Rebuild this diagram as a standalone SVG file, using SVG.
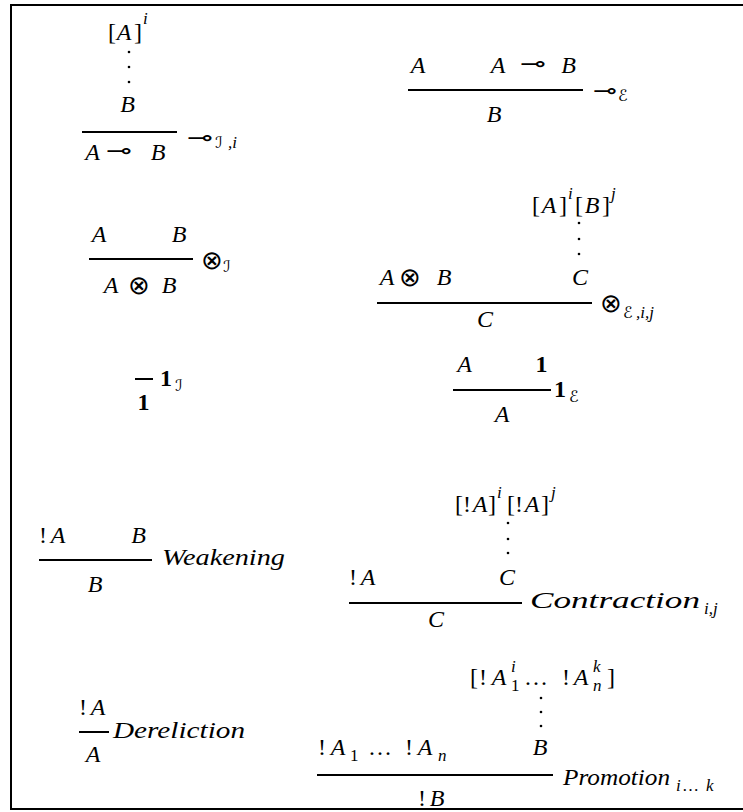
<svg xmlns="http://www.w3.org/2000/svg" width="743" height="812" viewBox="0 0 743 812">
<style>
text{font-family:"Liberation Serif","DejaVu Serif",serif;font-size:24px;fill:#000}
.i{font-style:italic}
.c{text-anchor:middle}
.s{font-size:17px}
.b{font-weight:bold}
.y{font-family:"DejaVu Sans","Noto Sans",sans-serif;font-size:22px;font-style:normal}
.t{font-family:"DejaVu Sans ExtraLight","DejaVu Sans","Noto Sans",sans-serif;font-weight:200;font-size:26px;font-style:normal}
.ys{font-family:"DejaVu Serif","DejaVu Sans",serif;font-size:16px;font-style:italic}
.rule{stroke:#000;stroke-width:2}
.dot{fill:#000}
</style>
<rect x="11" y="5" width="742" height="804" fill="none" stroke="#000" stroke-width="2"/>

<g id="lolli-intro">
<text x="108" y="40">[</text><text class="i c" x="124" y="40">A</text><text x="134" y="40">]</text>
<text class="i s" x="143" y="24">i</text>
<circle class="dot" cx="129" cy="52" r="1.3"/><circle class="dot" cx="129" cy="67" r="1.3"/><circle class="dot" cx="129" cy="82" r="1.3"/>
<text class="i c" x="127.5" y="112">B</text>
<line class="rule" x1="82" y1="132" x2="177" y2="132"/>
<text class="i c" x="92.5" y="160">A</text><text class="y c" x="119" y="158" textLength="26" lengthAdjust="spacingAndGlyphs">⊸</text><text class="i c" x="158" y="160">B</text>
<text class="y c" x="200" y="145" textLength="26" lengthAdjust="spacingAndGlyphs">⊸</text>
<text class="ys" x="215" y="148">ℐ</text><text class="i s" x="228" y="148">,i</text>
</g>

<g id="lolli-elim">
<text class="i c" x="418" y="73">A</text>
<text class="i c" x="498" y="73">A</text><text class="y c" x="533" y="71" textLength="26" lengthAdjust="spacingAndGlyphs">⊸</text><text class="i c" x="568.5" y="73">B</text>
<line class="rule" x1="408" y1="90" x2="583" y2="90"/>
<text class="y c" x="605" y="98" textLength="24" lengthAdjust="spacingAndGlyphs">⊸</text>
<text class="ys" x="618" y="101">ℰ</text>
<text class="i c" x="494" y="122">B</text>
</g>

<g id="tensor-intro">
<text class="i c" x="99" y="242">A</text><text class="i c" x="179" y="242">B</text>
<line class="rule" x1="89" y1="259" x2="193" y2="259"/>
<text class="t c" x="211.5" y="269" font-size="24">⊗</text>
<text class="ys" x="223" y="272">ℐ</text>
<text class="i c" x="111" y="293">A</text><text class="t c" x="139" y="294">⊗</text><text class="i c" x="169" y="293">B</text>
</g>

<g id="tensor-elim">
<text x="532" y="213">[</text><text class="i c" x="549" y="213">A</text><text x="559" y="213">]</text>
<text class="i s" x="568" y="199">i</text>
<text x="575" y="213">[</text><text class="i c" x="592" y="213">B</text><text x="602" y="213">]</text>
<text class="i s" x="611" y="199">j</text>
<circle class="dot" cx="579" cy="223" r="1.3"/><circle class="dot" cx="579" cy="239" r="1.3"/><circle class="dot" cx="579" cy="254" r="1.3"/>
<text class="i c" x="387" y="285">A</text><text class="t c" x="410" y="286">⊗</text><text class="i c" x="444" y="285">B</text>
<text class="i c" x="580" y="285">C</text>
<line class="rule" x1="377" y1="303" x2="592" y2="303"/>
<text class="t c" x="611" y="312" font-size="24">⊗</text>
<text class="ys" x="623" y="318">ℰ</text><text class="i s" x="636" y="318">,i,j</text>
<text class="i c" x="485" y="327">C</text>
</g>

<g id="one-intro">
<line class="rule" x1="135" y1="379" x2="153" y2="379"/>
<text class="b c" x="143.5" y="410">1</text>
<text class="b" x="160" y="386">1</text><text class="ys" x="175" y="391">ℐ</text>
</g>

<g id="one-elim">
<text class="i c" x="464.5" y="372">A</text><text class="b c" x="541.5" y="372">1</text>
<line class="rule" x1="453" y1="390" x2="551" y2="390"/>
<text class="b" x="554" y="397">1</text><text class="ys" x="569" y="402">ℰ</text>
<text class="i c" x="502" y="422">A</text>
</g>

<g id="weakening">
<text x="39" y="543">!</text><text class="i c" x="58" y="543">A</text>
<text class="i c" x="138.5" y="543">B</text>
<line class="rule" x1="39" y1="560" x2="152" y2="560"/>
<text class="i" x="162" y="565" textLength="123" lengthAdjust="spacingAndGlyphs">Weakening</text>
<text class="i c" x="95" y="592">B</text>
</g>

<g id="contraction">
<text x="455" y="512">[</text><text x="463" y="512">!</text><text class="i c" x="480" y="512">A</text><text x="488" y="512">]</text>
<text class="i s" x="497" y="498">i</text>
<text x="507" y="512">[</text><text x="515" y="512">!</text><text class="i c" x="532" y="512">A</text><text x="541" y="512">]</text>
<text class="i s" x="551" y="498">j</text>
<circle class="dot" cx="508" cy="523" r="1.3"/><circle class="dot" cx="508" cy="539" r="1.3"/><circle class="dot" cx="508" cy="553" r="1.3"/>
<text x="349" y="585">!</text><text class="i c" x="368" y="585">A</text>
<text class="i c" x="507" y="585">C</text>
<line class="rule" x1="349" y1="603" x2="522" y2="603"/>
<text class="i" x="530" y="608" textLength="170" lengthAdjust="spacingAndGlyphs">Contraction</text>
<text class="i s" x="704" y="614">i,j</text>
<text class="i c" x="436" y="627">C</text>
</g>

<g id="dereliction">
<text x="79" y="715">!</text><text class="i c" x="98" y="715">A</text>
<line class="rule" x1="79" y1="732" x2="109" y2="732"/>
<text class="i" x="113" y="738" textLength="132" lengthAdjust="spacingAndGlyphs">Dereliction</text>
<text class="i c" x="93" y="762">A</text>
</g>

<g id="promotion">
<text x="470" y="685">[</text><text x="479" y="685">!</text><text class="i c" x="499" y="685">A</text>
<text class="i s" x="511" y="672">i</text><text class="s" x="511" y="691">1</text>
<text x="524" y="685" textLength="34" lengthAdjust="spacing">…</text>
<text x="562" y="685">!</text><text class="i c" x="581" y="685">A</text>
<text class="i s" x="593" y="672">k</text><text class="i s" x="593" y="691">n</text>
<text x="607" y="685">]</text>
<circle class="dot" cx="541" cy="698" r="1.3"/><circle class="dot" cx="541" cy="712" r="1.3"/><circle class="dot" cx="541" cy="726" r="1.3"/>
<text x="318" y="755">!</text><text class="i c" x="338" y="755">A</text><text class="s" x="350" y="761">1</text>
<text x="368" y="755" textLength="33" lengthAdjust="spacing">…</text>
<text x="405" y="755">!</text><text class="i c" x="425" y="755">A</text><text class="i s" x="438" y="761">n</text>
<text class="i c" x="540" y="755">B</text>
<line class="rule" x1="317" y1="775" x2="553" y2="775"/>
<text class="i" x="563" y="785" textLength="107" lengthAdjust="spacingAndGlyphs">Promotion</text>
<text class="i s" x="676" y="791">i</text><text x="682" y="791" class="s" textLength="21" lengthAdjust="spacing">…</text><text class="i s" x="706" y="791">k</text>
<text x="418" y="806">!</text><text class="i c" x="437" y="806">B</text>
</g>
</svg>
